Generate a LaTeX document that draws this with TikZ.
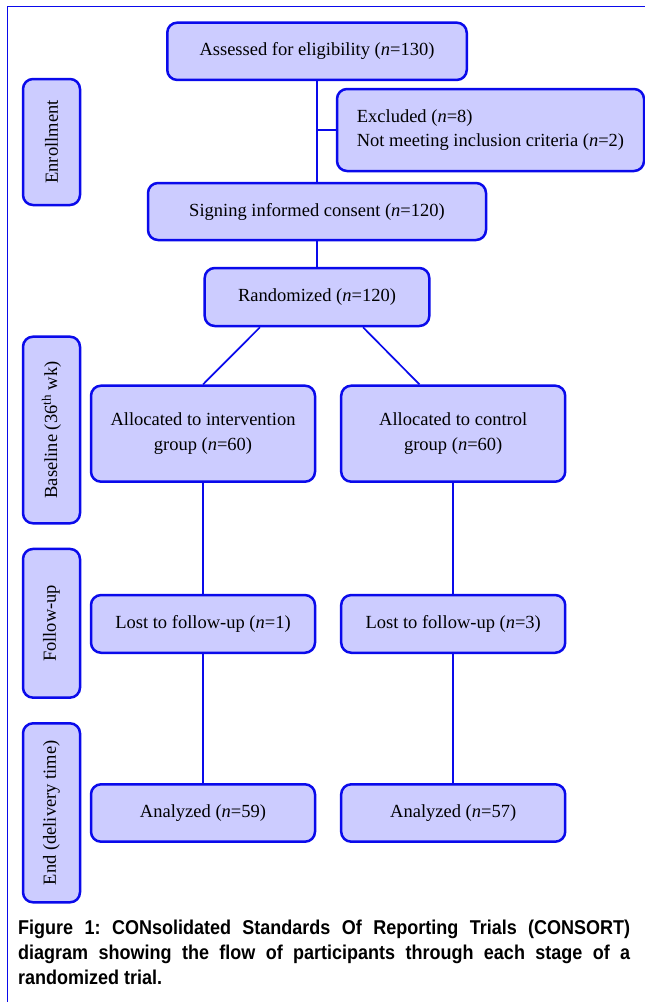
\documentclass[tikz,border=0pt]{standalone}
\usepackage{fontspec}
\setmainfont{Liberation Serif}
\newfontfamily\capfont[FakeStretch=0.9]{Liberation Sans}
\definecolor{bfill}{RGB}{204,204,255}
\definecolor{bline}{RGB}{10,10,235}
\tikzset{
  box/.style={draw=bline, fill=bfill, line width=2.5pt, rounded corners=10pt,
    inner sep=0pt, align=center, font=\fontsize{18.5}{24.5}\selectfont},
  lbl/.style={box, rotate=90, minimum height=57pt},
  conn/.style={draw=bline, line width=1.7pt},
  frameline/.style={draw=bline, line width=1.5pt},
}
\begin{document}
\begin{tikzpicture}[x=1pt,y=-1pt]
\useasboundingbox (0,0) rectangle (645,1002);
\fill[white] (0,0) rectangle (645,1002);
% frame
\coordinate (f1) at (645,6.5);
\coordinate (f2) at (7.5,6.5);
\coordinate (f3) at (7.5,1002);
\draw[frameline] (f1) -- (f2) -- (f3);
% side labels
\node[lbl, minimum width=126pt] (enroll) at (51.5,142) {Enrollment};
\node[lbl, minimum width=186.6pt] (baseline) at (51.5,430) {Baseline (36\textsuperscript{th} wk)};
\node[lbl, minimum width=148.7pt] (follow) at (51.5,623.3) {Follow-up};
\node[lbl, minimum width=179pt] (endl) at (51.5,812.8) {End (delivery time)};
% main boxes
\node[box, minimum width=299.5pt, minimum height=57.3pt] (assess) at (317,51.3) {Assessed for eligibility (\textit{n}=130)};
\node[box, minimum width=307pt, minimum height=82pt, align=left] (excl) at (490.5,130) {Excluded (\textit{n}=8)\\Not meeting inclusion criteria (\textit{n}=2)};
\node[box, minimum width=338pt, minimum height=57pt] (sign) at (317,211.5) {Signing informed consent (\textit{n}=120)};
\node[box, minimum width=224.6pt, minimum height=58pt] (rand) at (317,297) {Randomized (\textit{n}=120)};
\node[box, minimum width=224pt, minimum height=96pt] (allocL) at (203,433.7) {Allocated to intervention\\group (\textit{n}=60)};
\node[box, minimum width=224pt, minimum height=96pt] (allocR) at (453.2,433.7) {Allocated to control\\group (\textit{n}=60)};
\node[box, minimum width=224pt, minimum height=57.7pt] (lostL) at (203,623.9) {Lost to follow-up (\textit{n}=1)};
\node[box, minimum width=224pt, minimum height=57.7pt] (lostR) at (453.2,623.9) {Lost to follow-up (\textit{n}=3)};
\node[box, minimum width=224pt, minimum height=57.4pt] (anaL) at (203,813) {Analyzed (\textit{n}=59)};
\node[box, minimum width=224pt, minimum height=57.4pt] (anaR) at (453.2,813) {Analyzed (\textit{n}=57)};
% connectors
\coordinate (j) at (assess.south |- excl.west);
\draw[conn] (assess.south) -- (sign.north);
\draw[conn] (j) -- (excl.west);
\draw[conn] (sign.south) -- (rand.north);
\draw[conn] ([xshift=-57pt]rand.south) -- (allocL.north);
\draw[conn] ([xshift=46pt]rand.south) -- ([xshift=-33.7pt]allocR.north);
\draw[conn] (allocL.south) -- (lostL.north);
\draw[conn] (lostL.south) -- (anaL.north);
\draw[conn] (allocR.south) -- (lostR.north);
\draw[conn] (lostR.south) -- (anaR.north);
% caption
\node[anchor=north west, inner sep=0pt, text width=612pt, align=justify,
  font=\capfont\bfseries\fontsize{20}{25.3}\selectfont] (cap) at (18,919.5)
  {\frenchspacing\hyphenpenalty=10000 Figure 1: CONsolidated Standards Of Reporting Trials (CONSORT)\linebreak
   diagram showing the flow of participants through each stage of a\linebreak
   randomized trial.};
\end{tikzpicture}
\end{document}
